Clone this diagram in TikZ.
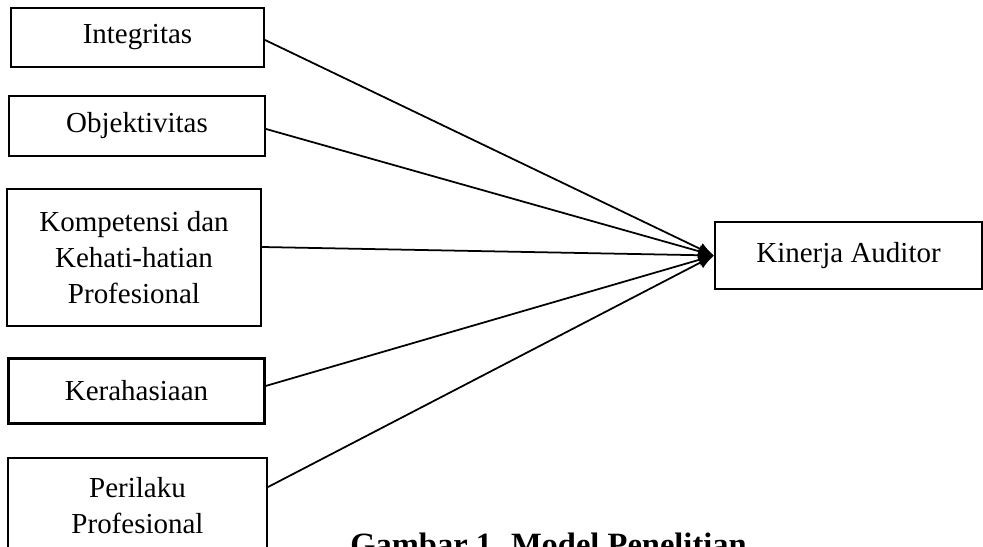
\documentclass[tikz,border=0pt]{standalone}
\usepackage{fontspec}
\setmainfont{Liberation Serif}
\usetikzlibrary{arrows.meta}

\begin{document}
\begin{tikzpicture}[
  x=0.02cm, y=-0.02cm,
  font=\fontsize{16.5}{20.6}\selectfont,
  var/.style={draw=black, line width=1.2pt, fill=white, align=center, inner sep=2pt, minimum width=5.12cm},
  link/.style={-{Latex[length=3.1mm,width=2.5mm]}, line width=1.0pt, draw=black},
  caption/.style={font=\bfseries\fontsize{18.5}{22}\selectfont, anchor=base west, inner sep=0pt}
]

% Page frame (the lower edge cuts the last box and the caption).
\useasboundingbox (0,0) rectangle (983,547);
\clip (0,0) rectangle (983,547);

% Independent variables.
\node[var, minimum width=5.06cm, minimum height=1.18cm] (int) at (137.5,37.5) {Integritas};
\node[var, minimum height=1.20cm] (obj) at (137,126) {Objektivitas};
\node[var, minimum width=5.08cm, minimum height=2.74cm] (kom) at (134,257.5)
  {Kompetensi dan\\Kehati-hatian\\Profesional};
\node[var, minimum height=1.30cm] (ker) at (136.5,391) {Kerahasiaan};
\node[var, minimum width=5.18cm, minimum height=1.90cm] (per) at (137.5,505.5)
  {Perilaku\\Profesional};

% Dependent variable.
\node[var, minimum width=5.34cm, minimum height=1.34cm] (kin) at (848.5,255.5) {Kinerja Auditor};

% Paths.
\draw[link] ([yshift=-0.05cm]int.east) -- (kin.west);
\draw[link] ([yshift=-0.06cm]obj.east) -- (kin.west);
\draw[link] ([yshift=0.21cm]kom.east) -- (kin.west);
\draw[link] ([yshift=0.10cm]ker.east) -- (kin.west);
\draw[link] ([yshift=0.37cm]per.east) -- (kin.west);

% Caption.
\node[caption] (cap) at (350,555) {Gambar 1. Model Penelitian};

\end{tikzpicture}
\end{document}
